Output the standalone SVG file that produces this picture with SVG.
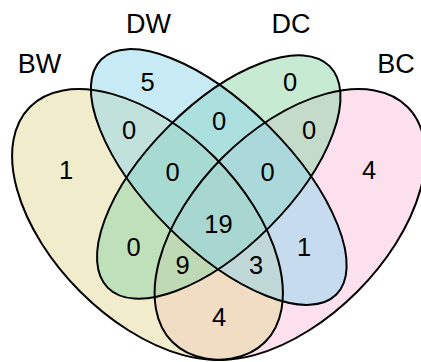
<svg xmlns="http://www.w3.org/2000/svg" width="421" height="362" viewBox="0 0 421 362">
  <style>
    .fill { stroke: none; fill-opacity: 0.5; }
    .edge { fill: none; stroke: #000; stroke-width: 2; }
    .set { font-family: "Liberation Sans", Arial, sans-serif; font-size: 27px; fill: #000; text-anchor: middle; }
    .n { font-family: "Liberation Sans", Arial, sans-serif; font-size: 25.5px; fill: #000; text-anchor: middle; }
  </style>
  <defs>
    <ellipse id="shapeBW" cx="147.5" cy="224.5" rx="166.25" ry="95" transform="rotate(45 147.5 224.5)"/>
    <ellipse id="shapeDW" cx="218.75" cy="177" rx="166.25" ry="71.25" transform="rotate(45 218.75 177)"/>
    <ellipse id="shapeDC" cx="218.75" cy="177" rx="156.75" ry="71.25" transform="rotate(-45 218.75 177)"/>
    <ellipse id="shapeBC" cx="290" cy="224.5" rx="166.25" ry="95" transform="rotate(-45 290 224.5)"/>
  </defs>
  <rect width="421" height="362" fill="#fff"/>

  <!-- translucent set fills, stacked -->
  <g id="fills">
    <use href="#shapeBC" class="fill" fill="#FBC1DD"/>
    <use href="#shapeBW" class="fill" fill="#E3D999"/>
    <use href="#shapeDC" class="fill" fill="#8DD5A5"/>
    <use href="#shapeDW" class="fill" fill="#8FD5EB"/>
  </g>

  <!-- set outlines -->
  <g id="BW"><use href="#shapeBW" class="edge"/><text class="set" x="39.5" y="73">BW</text></g>
  <g id="DW"><use href="#shapeDW" class="edge"/><text class="set" x="148.5" y="33">DW</text></g>
  <g id="DC"><use href="#shapeDC" class="edge"/><text class="set" x="291" y="33">DC</text></g>
  <g id="BC"><use href="#shapeBC" class="edge"/><text class="set" x="396" y="73">BC</text></g>

  <!-- region counts -->
  <g id="counts">
    <text class="n" x="147.5" y="90.5">5</text>
    <text class="n" x="290" y="90.5">0</text>
    <text class="n" x="129" y="139">0</text>
    <text class="n" x="219" y="130">0</text>
    <text class="n" x="309" y="139">0</text>
    <text class="n" x="66" y="179">1</text>
    <text class="n" x="369" y="179">4</text>
    <text class="n" x="172.5" y="181">0</text>
    <text class="n" x="267.5" y="181">0</text>
    <text class="n" x="218.5" y="232.5">19</text>
    <text class="n" x="133.5" y="256">0</text>
    <text class="n" x="304" y="256">1</text>
    <text class="n" x="182.5" y="274">9</text>
    <text class="n" x="256" y="274">3</text>
    <text class="n" x="219" y="326">4</text>
  </g>
</svg>
